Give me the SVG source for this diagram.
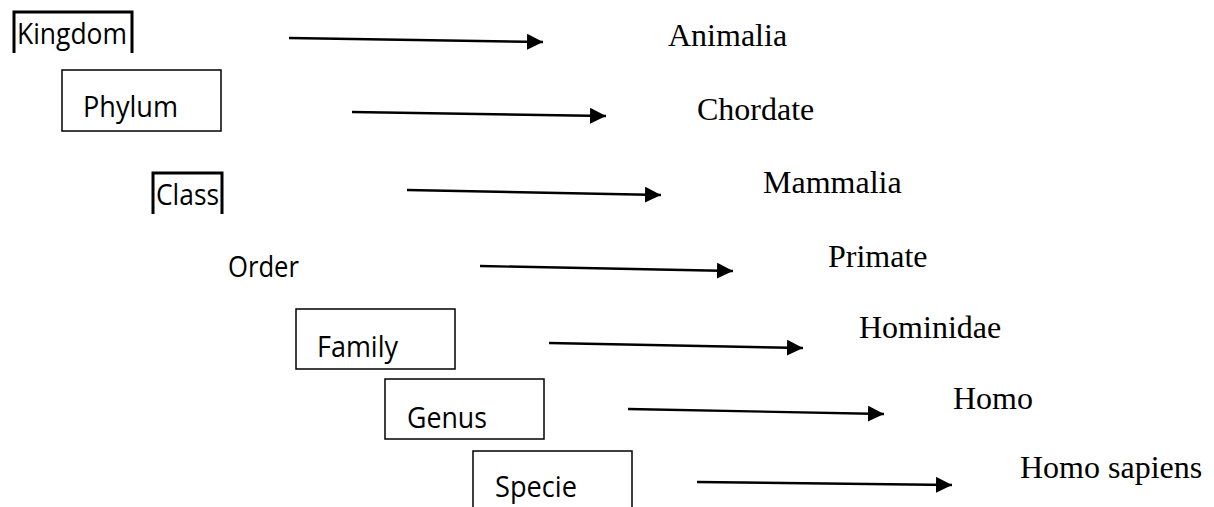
<svg xmlns="http://www.w3.org/2000/svg" width="1214" height="507" viewBox="0 0 1214 507">
<style>
.lt{font-family:"Open Sans","Liberation Sans",sans-serif;font-size:29px;fill:#000}
.rt{font-family:"Liberation Serif","Times New Roman",serif;font-size:32px;fill:#000}
.box{fill:none;stroke:#000;stroke-width:1.5}
.thick{fill:none;stroke:#000;stroke-width:3}
.arr{stroke:#000;stroke-width:2.4;fill:none;marker-end:url(#ah)}
</style>
<defs>
<marker id="ah" markerUnits="userSpaceOnUse" markerWidth="17" markerHeight="17" refX="16" refY="8" orient="auto">
<path d="M0,0 L16,8 L0,16 Z" fill="#000"/>
</marker>
</defs>
<rect width="1214" height="507" fill="#fff"/>
<g id="kingdom">
<path class="thick" d="M14,53 V12 H132 V53"/>
<text class="lt" x="17" y="44" textLength="110" lengthAdjust="spacingAndGlyphs">Kingdom</text>
</g>
<g id="phylum">
<rect class="box" x="62" y="70" width="159" height="61"/>
<text class="lt" x="83" y="117" textLength="95" lengthAdjust="spacingAndGlyphs">Phylum</text>
</g>
<g id="class">
<path class="thick" d="M153,214 V173 H222 V214"/>
<text class="lt" x="156" y="205" textLength="63" lengthAdjust="spacingAndGlyphs">Class</text>
</g>
<g id="order">
<text class="lt" x="228" y="277" textLength="71" lengthAdjust="spacingAndGlyphs">Order</text>
</g>
<g id="family">
<rect class="box" x="296" y="309" width="159" height="60"/>
<text class="lt" x="317" y="357" textLength="81" lengthAdjust="spacingAndGlyphs">Family</text>
</g>
<g id="genus">
<rect class="box" x="385" y="379" width="159" height="60"/>
<text class="lt" x="407" y="428" textLength="80" lengthAdjust="spacingAndGlyphs">Genus</text>
</g>
<g id="specie">
<path class="box" d="M473,507 V451 H632 V507"/>
<text class="lt" x="495" y="497" textLength="82" lengthAdjust="spacingAndGlyphs">Specie</text>
</g>
<g id="connectors">
<line class="arr" x1="289" y1="38" x2="543" y2="42"/>
<line class="arr" x1="352" y1="112" x2="606" y2="116"/>
<line class="arr" x1="407" y1="190" x2="661" y2="195"/>
<line class="arr" x1="480" y1="266" x2="733" y2="271"/>
<line class="arr" x1="549" y1="343" x2="803" y2="348"/>
<line class="arr" x1="628" y1="409" x2="884" y2="414"/>
<line class="arr" x1="697" y1="482" x2="952" y2="485"/>
</g>
<g id="animalia"><text class="rt" x="668" y="46">Animalia</text></g>
<g id="chordate"><text class="rt" x="697" y="120">Chordate</text></g>
<g id="mammalia"><text class="rt" x="763" y="193">Mammalia</text></g>
<g id="primate"><text class="rt" x="828" y="267">Primate</text></g>
<g id="hominidae"><text class="rt" x="859" y="338">Hominidae</text></g>
<g id="homo"><text class="rt" x="953" y="409">Homo</text></g>
<g id="homosapiens"><text class="rt" x="1020" y="478">Homo sapiens</text></g>
</svg>
